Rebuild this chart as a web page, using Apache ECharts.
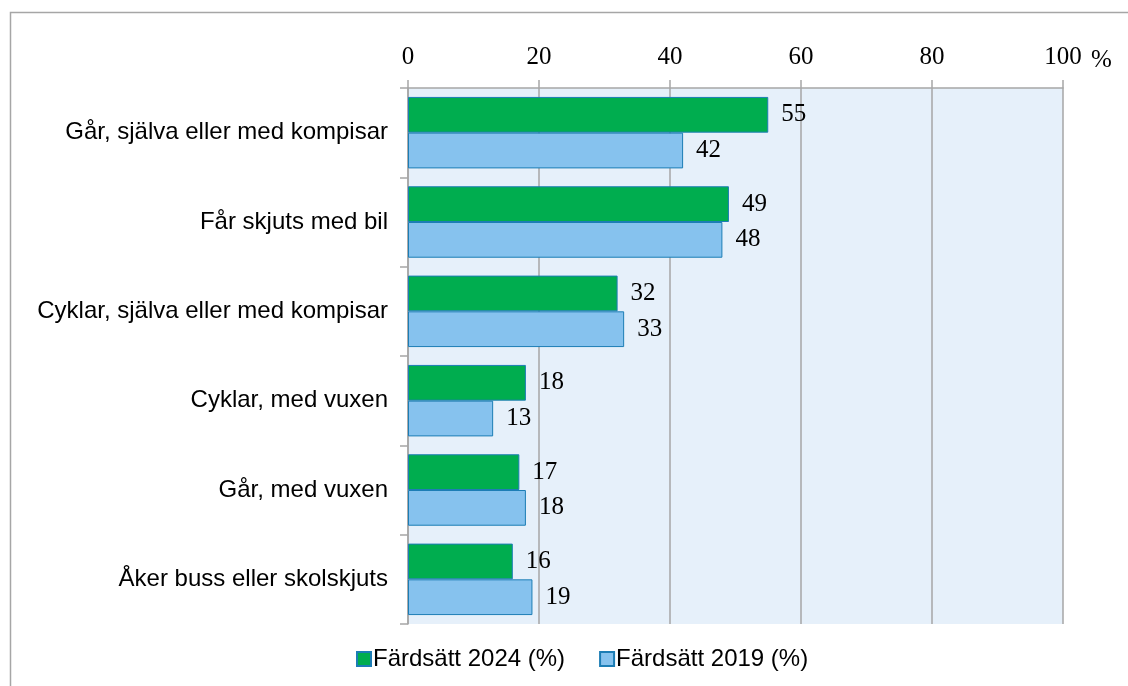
<!DOCTYPE html>
<html>
<head>
<meta charset="utf-8">
<script src="https://cdn.jsdelivr.net/npm/echarts@6/dist/echarts.min.js"></script>
<style>
  html, body { margin: 0; padding: 0; background: #fff; }
  #main { width: 1128px; height: 686px; }
</style>
</head>
<body>
<div id="main"></div>
<script>
// kategorier, uppifrån och ned
const categories = [
  'Går, själva eller med kompisar',
  'Får skjuts med bil',
  'Cyklar, själva eller med kompisar',
  'Cyklar, med vuxen',
  'Går, med vuxen',
  'Åker buss eller skolskjuts'
];
const seriesNames = ['Färdsätt 2024 (%)', 'Färdsätt 2019 (%)'];
const values2024 = [55, 49, 32, 18, 17, 16];
const values2019 = [42, 48, 33, 13, 18, 19];
const tickValues = [0, 20, 40, 60, 80, 100];

const chart = echarts.init(document.getElementById('main'));

const labelStyle = {
  show: true,
  position: 'right',
  distance: 13,
  color: '#000',
  fontFamily: 'Liberation Serif',
  fontSize: 25
};

chart.setOption({
  animation: false,
  backgroundColor: '#fff',
  grid: {
    left: 408,
    right: 65,
    top: 88,
    bottom: 62,
    show: true,
    backgroundColor: '#E6F0FA',
    borderWidth: 0
  },
  legend: {
    data: seriesNames,
    bottom: 10,
    left: 351,
    itemWidth: 14,
    itemHeight: 14,
    itemGap: 34,
    icon: 'rect',
    textStyle: {
      fontFamily: 'Liberation Sans',
      fontSize: 24,
      color: '#000',
      padding: [0, 0, 0, -3]
    }
  },
  xAxis: {
    type: 'value',
    position: 'top',
    min: tickValues[0],
    max: tickValues[tickValues.length - 1],
    interval: 20,
    axisLine: { show: true, lineStyle: { color: '#A6A6A6', width: 1.5 } },
    axisTick: { show: true, length: 8, lineStyle: { color: '#A6A6A6', width: 1.5 } },
    axisLabel: {
      color: '#000',
      fontFamily: 'Liberation Serif',
      fontSize: 25,
      margin: 18
    },
    splitLine: { show: true, lineStyle: { color: '#A6A6A6', width: 1.5 } }
  },
  yAxis: {
    type: 'category',
    data: categories,
    inverse: true,
    axisLine: { show: true, lineStyle: { color: '#A6A6A6', width: 1.5 } },
    axisTick: { show: true, length: 8, lineStyle: { color: '#A6A6A6', width: 1.5 } },
    axisLabel: {
      color: '#000',
      fontFamily: 'Liberation Sans',
      fontSize: 24,
      margin: 20
    }
  },
  graphic: [
    {
      // ram runt diagrammet
      type: 'rect',
      silent: true,
      z: -1,
      shape: { x: 10.5, y: 12.5, width: 1200, height: 700 },
      style: { fill: 'none', stroke: '#A6A6A6', lineWidth: 1.5 }
    },
    {
      type: 'text',
      left: 1091,
      top: 48,
      style: {
        text: '%',
        fill: '#000',
        font: '25px "Liberation Serif"'
      }
    }
  ],
  series: [
    {
      name: seriesNames[0],
      type: 'bar',
      data: values2024,
      barGap: '0%',
      barCategoryGap: '20%',
      itemStyle: { color: '#00AD4F', borderColor: '#1C7DB5', borderWidth: 1 },
      label: labelStyle
    },
    {
      name: seriesNames[1],
      type: 'bar',
      data: values2019,
      barGap: '0%',
      barCategoryGap: '20%',
      itemStyle: { color: '#86C2EE', borderColor: '#1C7DB5', borderWidth: 1 },
      label: labelStyle
    }
  ]
});
</script>
</body>
</html>
